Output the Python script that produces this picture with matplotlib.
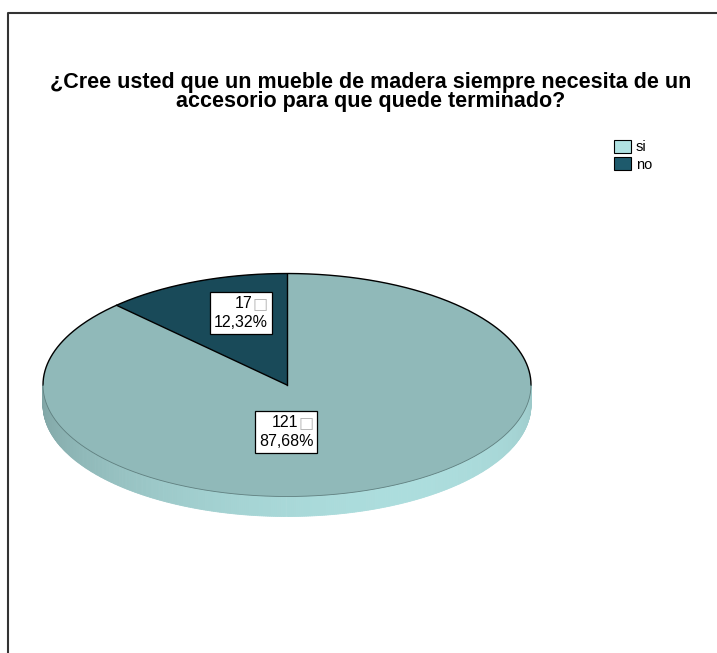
import numpy as np
import matplotlib
matplotlib.use("Agg")
import matplotlib.pyplot as plt
from matplotlib.patches import Polygon, Patch
from matplotlib.offsetbox import TextArea, VPacker, HPacker, AnnotationBbox

plt.rcParams['font.family'] = ['Liberation Sans', 'DejaVu Sans']

# Survey answers
categories = ['si', 'no']
counts = [121, 17]
percent_labels = ['87,68%', '12,32%']
base_colors = ['#b0e2e2', '#1e5a6c']
title = '¿Cree usted que un mueble de madera siempre necesita de un\naccesorio para que quede terminado?'

W, H = 717, 653
fig = plt.figure(figsize=(W / 100, H / 100), dpi=100)
ax = fig.add_axes([0, 0, 1, 1])
ax.set_xlim(0, W)
ax.set_ylim(H, 0)
ax.axis('off')

# chart frame (only top and left visible)
ax.plot([8, 8, W], [H, 13, 13], color='#333333', lw=1.5, solid_capstyle='butt')

ax.text(371, 92, title, ha='center', va='center', fontsize=15.5,
        fontweight='bold', linespacing=0.92)

# 3D pie geometry (pixel space, y pointing down)
cx, cy = 287, 385
rx, ry = 244, 111.5
depth = 20


def shade(c, f):
    rgb = np.array(matplotlib.colors.to_rgb(c))
    return tuple(np.clip(rgb * f, 0, 1))


def pt(t, dy=0.0):
    # t is the usual math angle (counter-clockwise, y up)
    return cx + rx * np.cos(t), cy - ry * np.sin(t) + dy


# slices start at 12 o'clock and run clockwise
fracs = np.array(counts) / np.sum(counts)
starts = []
a = np.pi / 2
for f in fracs:
    starts.append((a, a - 2 * np.pi * f))
    a -= 2 * np.pi * f

# side wall: only the front half (math angles pi..2pi) is visible
for (a0, a1), col in zip(starts, base_colors):
    lo, hi = min(a0, a1), max(a0, a1)
    for shift in (0, 2 * np.pi, -2 * np.pi):
        s0, s1 = max(lo + shift, -np.pi), min(hi + shift, 0)
        if s1 <= s0:
            continue
        ts = np.linspace(s0, s1, max(int((s1 - s0) * 120), 2))
        for t0, t1 in zip(ts[:-1], ts[1:]):
            tm = 0.5 * (t0 + t1)
            # lightest toward the front, darker at the left
            fshade = 0.805 + 0.15 * (-np.sin(tm)) + 0.085 * np.cos(tm)
            p = [pt(t0), pt(t1), pt(t1, depth), pt(t0, depth)]
            ax.add_patch(Polygon(p, closed=True, facecolor=shade(col, fshade),
                                 edgecolor=shade(col, fshade), lw=0.6))

# top faces
for (a0, a1), col in zip(starts, base_colors):
    ts = np.linspace(a0, a1, 300)
    xs, ys = pt(ts)
    poly = np.column_stack([np.r_[cx, xs], np.r_[cy, ys]])
    ax.add_patch(Polygon(poly, closed=True, facecolor=shade(col, 0.82),
                         edgecolor='none'))

# outlines
tt = np.linspace(0, np.pi, 300)
ax.plot(*pt(tt), color='black', lw=1.0)
tt = np.linspace(np.pi, 2 * np.pi, 300)
ax.plot(*pt(tt), color='#5f7f7f', lw=0.6)
for a0, _ in starts:
    x1, y1 = pt(a0)
    ax.plot([cx, x1], [cy, y1], color='black', lw=1.0)

# data labels
label_pos = [(286, 432), (241, 313)]
for n, pct, pos in zip(counts, percent_labels, label_pos):
    top = HPacker(children=[TextArea(str(n), textprops=dict(fontsize=11.5)),
                            TextArea('□', textprops=dict(fontsize=11.5, color='#b0b0b0',
                                                         family='DejaVu Sans'))],
                  align='center', pad=0, sep=0)
    box = VPacker(children=[top, TextArea(pct, textprops=dict(fontsize=11.5))],
                  align='right', pad=0, sep=2.5)
    ab = AnnotationBbox(box, pos, xycoords='data', frameon=True, pad=0.12,
                        bboxprops=dict(edgecolor='black', facecolor='white', lw=0.9,
                                       boxstyle='square'))
    ax.add_artist(ab)

handles = [Patch(facecolor=c, edgecolor='black', lw=0.8) for c in base_colors]
ax.legend(handles, categories, loc='upper left',
          bbox_to_anchor=(614 / W, 1 - 140 / H), bbox_transform=fig.transFigure,
          frameon=False, fontsize=10.5, handlelength=1.15, handleheight=0.95,
          handletextpad=0.35, labelspacing=0.2, borderpad=0, borderaxespad=0)

fig.savefig('out.png', dpi=100)
